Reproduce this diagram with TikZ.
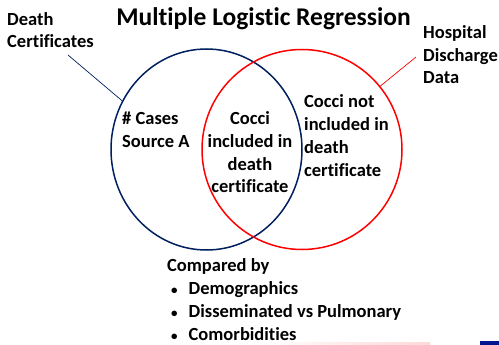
\documentclass[tikz,border=0pt]{standalone}
\usepackage{fontspec}
\setmainfont{Carlito}[Ligatures=CommonOff]
\usetikzlibrary{shapes.geometric}
\definecolor{navy}{RGB}{0,32,96}
\definecolor{brightred}{RGB}{255,0,0}
\newcommand{\bul}{\makebox[17.5pt][l]{\fontsize{13}{13}\selectfont\textbullet}}
\begin{document}
\begin{tikzpicture}[x=1pt,y=-1pt,
  txt/.style={inner sep=0pt, font=\bfseries\fontsize{18.5}{22.7}\selectfont},
  circA/.style={draw=navy, line width=1.5pt},
  circB/.style={draw=brightred, line width=1.5pt},
  leadA/.style={draw=navy, line width=0.7pt},
  leadB/.style={draw=brightred, line width=0.7pt}]
\useasboundingbox (0,0) rectangle (499,345);
\fill[white] (0,0) rectangle (499,345);
% title
\node[inner sep=0pt, anchor=base, font=\bfseries\fontsize{25.5}{30}\selectfont] (title) at (263.5,26) {Multiple Logistic Regression};
% circles
\node[circA, ellipse, minimum width=191pt, minimum height=201pt, inner sep=0pt] (dc) at (206.5,149.5) {};
\node[circB, circle, minimum size=200pt, inner sep=0pt] (hd) at (302,149.5) {};
% labels (base anchor = baseline of last line)
\node[txt, anchor=base west, align=left] (dclab) at (7,48) {Death\\Certificates};
\node[txt, anchor=base west, align=left] (hdlab) at (423,84) {Hospital\\Discharge\\Data};
\coordinate (dcl) at (68,55);
\coordinate (hdl) at (416,57);
\draw[leadA] (dcl) -- (dc.150);
\draw[leadB] (hdl) -- (hd.39);
% region texts
\node[txt, anchor=base west, align=left] (srcA) at (122,147.5) {\# Cases\\Source A};
\node[txt, anchor=base, align=center] (both) at (250,193) {Cocci\\included in\\death\\certificate};
\node[txt, anchor=base west, align=left] (onlyB) at (304,176) {Cocci not\\included in\\death\\certificate};
% bottom list
\node[txt, anchor=base west] (cmp) at (167,272) {Compared by};
\node[txt, anchor=base west, align=left] (list) at (171,340) {\bul Demographics\\\bul Disseminated vs Pulmonary\\\bul Comorbidities};
% footer artifacts
\shade[left color=white, middle color=brightred!85!black, right color=brightred!15] (255,342) rectangle (430,345);
\fill[navy!70!blue] (480,341) rectangle (499,345);
\end{tikzpicture}
\end{document}
